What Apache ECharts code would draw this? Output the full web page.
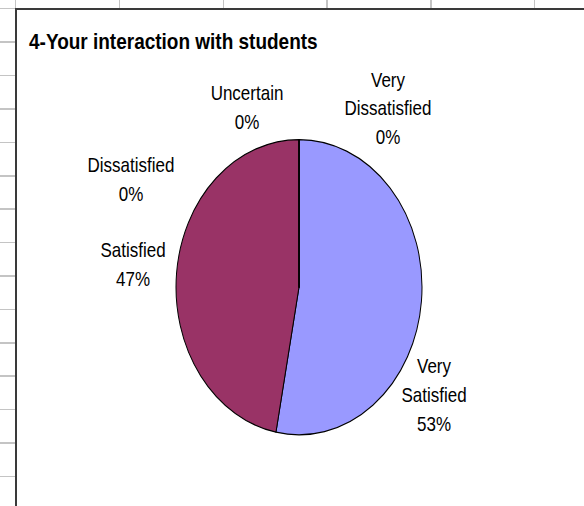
<!DOCTYPE html>
<html>
<head>
<meta charset="utf-8">
<script src="https://cdn.jsdelivr.net/npm/echarts@6/dist/echarts.min.js"></script>
<style>
    body {
        margin: 0;
        width: 584px;
        height: 506px;
        overflow: hidden;
        position: relative;
        background-color: #fff;
        background-image:
            repeating-linear-gradient(to right, transparent 0 15px, #c4c4c4 15px 16.5px, transparent 16.5px 103.8px),
            repeating-linear-gradient(to bottom, transparent 0 8px, #c4c4c4 8px 9.5px, transparent 9.5px 33.4px);
    }
    #frame {
        position: absolute;
        left: 15px;
        top: 8px;
        right: -10px;
        bottom: -10px;
        background: #fff;
        border-left: 2px solid #3a3a3a;
        border-top: 2px solid #3a3a3a;
    }
    #main {
        position: absolute;
        left: 0;
        top: 0;
        width: 580px;
        height: 420px;
        transform: scaleY(1.2);
        transform-origin: 0 0;
    }
</style>
</head>
<body>
<div id="frame"><div id="main"></div></div>
<script>
var titleText = '4-Your interaction with students';
var answers = ['Very Satisfied', 'Satisfied', 'Dissatisfied', 'Uncertain', 'Very Dissatisfied'];
var shares = [53, 47, 0, 0, 0];
var sliceColors = ['#9999ff', '#993366', '#ffffcc', '#ccffff', '#660066'];

// where Excel put each label (chart px, before the vertical stretch)
var labelPos = [[417, 321], [116, 212], [114, 141], [230, 81], [371, 82]];

var chart = echarts.init(document.getElementById('main'), null, {renderer: 'svg'});

var pieData = [];
for (var i = 0; i < answers.length; i++) {
    pieData.push({
        name: answers[i],
        value: shares[i],
        itemStyle: {color: sliceColors[i]}
    });
}

var option = {
    animation: false,
    title: {
        text: titleText,
        left: 7,
        top: 11,
        textStyle: {
            fontFamily: 'Liberation Sans, Arial, sans-serif',
            fontSize: 19,
            fontWeight: 'bold',
            color: '#000'
        }
    },
    series: [{
        type: 'pie',
        center: [282, 231],
        radius: 123,
        startAngle: 90,
        clockwise: true,
        avoidLabelOverlap: false,
        emphasis: {disabled: true},
        itemStyle: {
            borderColor: '#000',
            borderWidth: 1
        },
        label: {
            show: true,
            position: 'outside',
            align: 'center',
            fontFamily: 'Liberation Sans, Arial, sans-serif',
            fontSize: 17,
            lineHeight: 24,
            color: '#000',
            formatter: function (p) {
                return p.name.replace(' ', '\n') + '\n' + Math.round(p.percent) + '%';
            }
        },
        labelLine: {show: false},
        labelLayout: function (params) {
            var p = labelPos[params.dataIndex];
            return {x: p[0], y: p[1], align: 'center', verticalAlign: 'middle'};
        },
        data: pieData
    }]
};

chart.setOption(option);
</script>
</body>
</html>
